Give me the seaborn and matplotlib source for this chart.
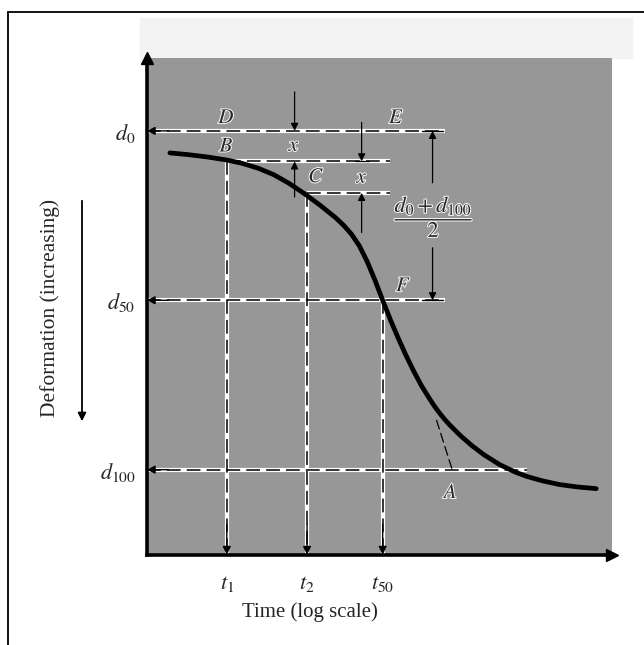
import matplotlib
matplotlib.use("Agg")
import matplotlib.pyplot as plt
import matplotlib.patheffects as pe
from matplotlib.lines import Line2D
from matplotlib.patches import Rectangle, FancyArrowPatch
import seaborn as sns
import pandas as pd

# ---- data (x = log time, y = deformation, d0=0 .. d100=100)
log_time = [0.27, 0.50, 0.75, 1.00, 1.20, 1.40, 1.60, 1.80, 2.00, 2.20, 2.40,
            2.50, 2.60, 2.70, 2.80, 2.90, 3.00, 3.10, 3.20, 3.30, 3.40, 3.50,
            3.60, 3.66, 3.72, 3.79, 3.86, 4.00, 4.15, 4.30, 4.50, 4.70, 4.85,
            5.05, 5.27, 5.50, 5.74]
deformation = [6.5, 7.0, 7.7, 8.6, 9.6, 11.0, 12.9, 15.5, 18.6, 22.0, 25.7,
               27.9, 30.5, 33.9, 38.5, 44.0, 50.0, 55.8, 61.2, 66.3, 71.0, 75.3,
               79.0, 81.1, 83.0, 85.0, 86.8, 90.0, 93.0, 95.6, 98.5, 100.7,
               102.0, 103.3, 104.4, 105.1, 105.6]
d_levels = [0, 50, 100]
d_labels = ["$d_0$", "$d_{50}$", "$d_{100}$"]
t_marks = [1.0, 2.03, 3.0]
t_labels = ["$t_1$", "$t_2$", "$t_{50}$"]
b_level = 9.0
c_level = 18.3
tangent_x = [3.69, 3.90]
tangent_y = [85.3, 100.6]

curve = pd.DataFrame({"log_time": log_time, "deformation": deformation})

sns.set_theme(style="white")
plt.rcParams["font.family"] = ["Liberation Serif", "DejaVu Serif"]
plt.rcParams["mathtext.fontset"] = "stix"

fig = plt.figure(figsize=(6.44, 6.45), dpi=100)
# light speckled strip above the plot
fig.add_artist(Rectangle((140 / 644, 1 - 58 / 645), 492 / 644, 40 / 645,
                         transform=fig.transFigure, color="#f3f3f3", zorder=0))
ax = fig.add_axes([0.228, 0.140, 0.722, 0.770])
ax.set_facecolor("#979797")
XMIN, XMAX = -0.026, 5.94
YBOT, YTOP = 125.1, -21.5
ax.set_xlim(XMIN, XMAX)
ax.set_ylim(YBOT, YTOP)

sns.lineplot(data=curve, x="log_time", y="deformation", ax=ax, color="black",
             lw=3.4, sort=False, estimator=None, zorder=6)


def dashed(xs, ys, lw=1.1):
    ax.plot(xs, ys, color="white", lw=3.0, solid_capstyle="butt", zorder=2)
    ax.plot(xs, ys, color="black", lw=lw, ls=(0, (9, 4)), zorder=3)


def arrow(x0, y0, x1, y1, lw=0.9, ms=11):
    ax.annotate("", xy=(x1, y1), xytext=(x0, y0),
                arrowprops=dict(arrowstyle="-|>", color="black", lw=lw,
                                mutation_scale=ms, shrinkA=0, shrinkB=0),
                zorder=7)


# horizontal guides
dashed([XMIN, 3.80], [d_levels[0]] * 2)
dashed([t_marks[0], 3.10], [b_level] * 2)
dashed([t_marks[1], 3.10], [c_level] * 2)
dashed([XMIN, 3.80], [d_levels[1]] * 2)
dashed([XMIN, 4.85], [d_levels[2]] * 2)
for lv in d_levels:
    arrow(XMIN + 0.28, lv, XMIN, lv, lw=1.0, ms=12)
# vertical guides
for tx, top in zip(t_marks, [b_level, c_level, d_levels[1]]):
    dashed([tx, tx], [top, YBOT])
    arrow(tx, YBOT - 9, tx, YBOT, lw=1.0, ms=12)
# tangent line
ax.plot(tangent_x, tangent_y, color="black", lw=0.9, ls=(0, (8, 3)), zorder=3)

# dimension arrows "x"
arrow(1.87, -11.5, 1.87, 0)
arrow(1.87, 19.5, 1.87, b_level)
arrow(2.73, -2.5, 2.73, b_level)
arrow(2.73, 30.0, 2.73, c_level)
ax.plot([2.64, 2.82], [b_level, b_level], color="black", lw=0.9, zorder=7)
# bracket for (d0+d100)/2
ax.plot([3.51, 3.78], [0, 0], color="black", lw=1.0, zorder=7)
ax.plot([3.51, 3.78], [50, 50], color="black", lw=1.0, zorder=7)
arrow(3.64, 15.3, 3.64, 0)
arrow(3.64, 34.5, 3.64, 50)

halo = [pe.withStroke(linewidth=1.5, foreground="#f4f4f4")]
labels = [("$D$", 1.00, -3.6), ("$E$", 3.18, -3.6), ("$B$", 1.00, 4.8),
          ("$C$", 2.15, 13.8), ("$F$", 3.27, 46.0), ("$A$", 3.88, 107.0),
          ("$x$", 1.87, 4.6), ("$x$", 2.74, 14.0)]
for s, lx, ly in labels:
    ax.text(lx, ly, s, fontsize=15, ha="center", va="center", zorder=8,
            path_effects=halo)
ax.text(3.66, 25.2, r"$\dfrac{d_0 + d_{100}}{2}$", fontsize=16, ha="center",
        va="center", zorder=8, path_effects=halo)

# axes styling
for side in ["top", "right"]:
    ax.spines[side].set_visible(False)
for side in ["left", "bottom"]:
    ax.spines[side].set_linewidth(2.6)
    ax.spines[side].set_color("black")
ax.plot([0], [1.0], marker="^", color="black", ms=9, transform=ax.transAxes,
        clip_on=False, zorder=9)
ax.plot([1.0], [0], marker=">", color="black", ms=9, transform=ax.transAxes,
        clip_on=False, zorder=9)
ax.set_xticks(t_marks, t_labels)
ax.set_yticks(d_levels, d_labels)
ax.tick_params(axis="both", length=0, labelsize=16)
ax.tick_params(axis="x", pad=14)
ax.tick_params(axis="y", pad=8)
ax.set_xlabel("")
ax.set_ylabel("")
ax.grid(False)

fig.text(310 / 644, 1 - 612 / 645, "Time (log scale)", fontsize=15,
         ha="center", va="center")
fig.text(50 / 644, 1 - 308 / 645, "Deformation (increasing)", fontsize=15.5,
         ha="center", va="center", rotation=90)
fig.add_artist(FancyArrowPatch(
    (82 / 644, 1 - 198 / 645), (82 / 644, 1 - 424 / 645),
    transform=fig.transFigure, arrowstyle="-|>", mutation_scale=12,
    color="black", lw=1.3))
# outer frame of the scanned figure
fig.add_artist(Line2D([8 / 644, 8 / 644], [0, 1 - 12 / 645], color="black",
                      lw=1.3, transform=fig.transFigure))
fig.add_artist(Line2D([8 / 644, 1], [1 - 12 / 645, 1 - 12 / 645],
                      color="black", lw=1.3, transform=fig.transFigure))

fig.savefig("out.png", dpi=100)
